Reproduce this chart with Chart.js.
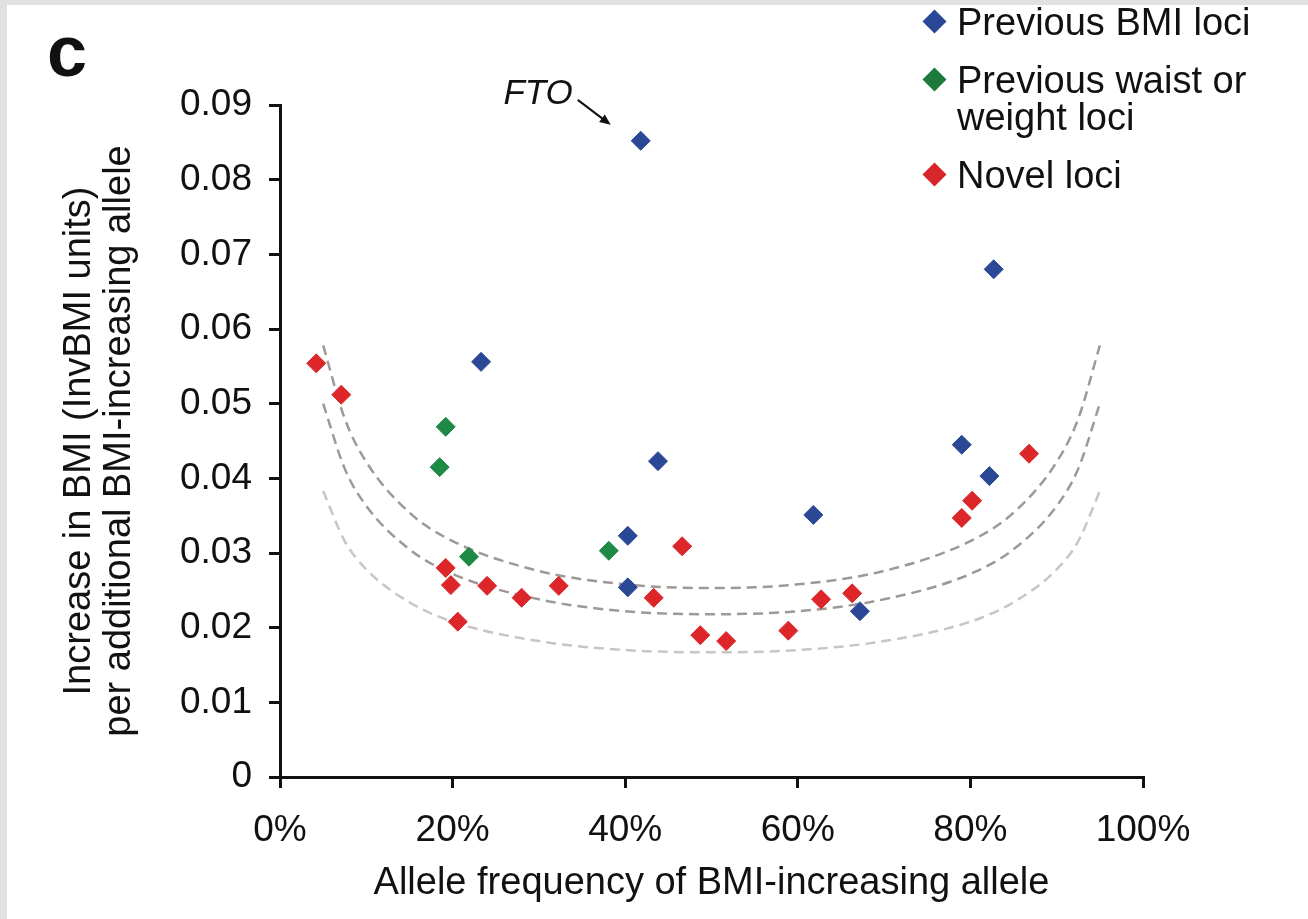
<!DOCTYPE html>
<html>
<head>
<meta charset="utf-8">
<script src="https://cdn.jsdelivr.net/npm/chart.js@4.4.1/dist/chart.umd.min.js"></script>
<style>
  body { margin:0; background:#e1e1e1; width:1308px; height:919px; overflow:hidden; font-family:"Liberation Sans", Arial, sans-serif; }
  #panel { position:absolute; left:7px; top:5px; width:1301px; height:914px; background:#fff; }
  #chart { position:absolute; left:0; top:0; }
  .lbl { position:absolute; color:#111; font-size:38px; line-height:37px; white-space:nowrap; }
  .dia { position:absolute; width:17px; height:17px; transform:rotate(45deg); }
  #panelc { position:absolute; left:47px; top:10px; font-size:72px; font-weight:bold; color:#111; }
</style>
</head>
<body>
<div id="panel"></div>
<canvas id="chart" width="1308" height="919"></canvas>
<div id="panelc">c</div>
<!-- legend -->
<div class="dia" style="left:926px;top:13px;background:#2b4896"></div>
<div class="lbl" style="left:957px;top:4px">Previous BMI loci</div>
<div class="dia" style="left:926px;top:71px;background:#1c7a3c"></div>
<div class="lbl" style="left:957px;top:62px">Previous waist or</div>
<div class="lbl" style="left:957px;top:99px">weight loci</div>
<div class="dia" style="left:926px;top:166px;background:#d8252a"></div>
<div class="lbl" style="left:957px;top:157px">Novel loci</div>

<script>
// allele frequency (%) and effect size
var bmiFreq   = [41.8, 82.7, 23.3, 43.8, 79.0, 82.2, 61.8, 40.3, 40.3, 67.2];
var bmiBeta   = [0.0852, 0.0680, 0.0556, 0.0423, 0.0445, 0.0403, 0.0351, 0.0323, 0.0254, 0.0222];

var waistFreq = [19.2, 18.5, 21.9, 38.1];
var waistBeta = [0.0469, 0.0415, 0.0295, 0.0303];

var novelFreq = [4.2, 7.1, 19.2, 19.8, 20.6, 24.0, 28.0, 32.3, 43.3, 46.6, 48.7, 51.7, 58.9, 62.7, 66.3, 79.0, 80.2, 86.8];
var novelBeta = [0.0554, 0.0512, 0.0280, 0.0257, 0.0208, 0.0256, 0.0240, 0.0256, 0.0240, 0.0309, 0.0190, 0.0182, 0.0196, 0.0238, 0.0246, 0.0347, 0.0370, 0.0433];

// dashed power curves, read at these frequencies
var curveFreq  = [5, 7.5, 10, 15, 20, 30, 40, 50, 60, 70, 80, 85, 90, 92.5, 95];
var curveUpper = [0.0578, 0.0480, 0.0422, 0.0354, 0.0316, 0.0276, 0.0258, 0.0253, 0.0258, 0.0276, 0.0316, 0.0354, 0.0422, 0.0480, 0.0578];
var curveMid   = [0.0500, 0.0413, 0.0363, 0.0305, 0.0272, 0.0238, 0.0222, 0.0218, 0.0222, 0.0238, 0.0272, 0.0305, 0.0363, 0.0413, 0.0500];
var curveLower = [0.0383, 0.0316, 0.0278, 0.0234, 0.0208, 0.0182, 0.0170, 0.0167, 0.0170, 0.0182, 0.0208, 0.0234, 0.0278, 0.0316, 0.0383];

var xTicks = [0, 20, 40, 60, 80, 100];

function pts(xs, ys) {
  var out = [];
  for (var i in xs) out.push({x: xs[i], y: ys[i]});
  return out;
}

function dots(label, xs, ys, color) {
  return {
    label: label, data: pts(xs, ys), order: 1,
    pointStyle: 'rectRot', pointRadius: 9.5, pointHoverRadius: 9.5,
    backgroundColor: color, borderColor: color, borderWidth: 1, showLine: false
  };
}

function curve(ys, color) {
  return {
    type: 'line', data: pts(curveFreq, ys), order: 10,
    borderColor: color, borderWidth: 2.5, borderDash: [10, 6],
    pointRadius: 0, fill: false, cubicInterpolationMode: 'monotone'
  };
}

var FONT = '"Liberation Sans", Arial, sans-serif';

var ftoLabel = {
  id: 'ftoLabel',
  afterDatasetsDraw: function(chart) {
    var el = chart.getDatasetMeta(3).data[0];
    var ctx = chart.ctx;
    ctx.save();
    ctx.fillStyle = '#111';
    ctx.font = 'italic 35px ' + FONT;
    ctx.textAlign = 'right';
    ctx.textBaseline = 'middle';
    ctx.fillText('FTO', el.x - 68, el.y - 47);
    // arrow
    var x0 = el.x - 63, y0 = el.y - 41, x1 = el.x - 30, y1 = el.y - 16;
    ctx.strokeStyle = '#111';
    ctx.lineWidth = 2;
    ctx.beginPath(); ctx.moveTo(x0, y0); ctx.lineTo(x1 - 6, y1 - 4.5); ctx.stroke();
    var a = Math.atan2(y1 - y0, x1 - x0);
    ctx.beginPath();
    ctx.moveTo(x1, y1);
    ctx.lineTo(x1 - 12 * Math.cos(a - 0.4), y1 - 12 * Math.sin(a - 0.4));
    ctx.lineTo(x1 - 12 * Math.cos(a + 0.4), y1 - 12 * Math.sin(a + 0.4));
    ctx.closePath(); ctx.fill();
    ctx.restore();
  }
};

var ctx = document.getElementById('chart');
var chart = new Chart(ctx, {
  type: 'scatter',
  data: {
    datasets: [
      curve(curveUpper, '#9f9994'),
      curve(curveMid, '#9f9994'),
      curve(curveLower, '#c9c5c1'),
      dots('Previous BMI loci', bmiFreq, bmiBeta, '#2b4896'),
      dots('Previous waist or weight loci', waistFreq, waistBeta, '#1f8a45'),
      dots('Novel loci', novelFreq, novelBeta, '#dc2629')
    ]
  },
  options: {
    responsive: false,
    animation: false,
    layout: { padding: { left: 59, right: 165, top: 105, bottom: 0 } },
    plugins: { legend: { display: false }, tooltip: { enabled: false } },
    scales: {
      x: {
        type: 'linear', min: 0, max: 100,
        afterBuildTicks: function(s) { s.ticks = xTicks.map(function(v) { return {value: v}; }); },
        afterFit: function(s) { s.height = 142; },
        grid: { drawOnChartArea: false, color: '#111', lineWidth: 3, tickLength: 11 },
        border: { color: '#111', width: 3 },
        ticks: { color: '#111', font: { family: FONT, size: 37 }, padding: 21, maxRotation: 0,
                 callback: function(v) { return v + '%'; } },
        title: { display: true, text: 'Allele frequency of BMI-increasing allele', color: '#111',
                 font: { family: FONT, size: 38 }, padding: { top: 0, bottom: 13 } }
      },
      y: {
        min: 0, max: 0.09,
        afterFit: function(s) { s.width = 221; },
        grid: { drawOnChartArea: false, color: '#111', lineWidth: 3, tickLength: 11 },
        border: { color: '#111', width: 3 },
        ticks: { stepSize: 0.01, color: '#111', font: { family: FONT, size: 37 }, padding: 17,
                 callback: function(v) { return v === 0 ? '0' : v.toFixed(2); } },
        title: { display: true, text: ['Increase in BMI (InvBMI units)', 'per additional BMI-increasing allele'],
                 color: '#111', font: { family: FONT, size: 38, lineHeight: 1.06 }, padding: 0 }
      }
    }
  },
  plugins: [ftoLabel]
});
</script>
</body>
</html>
